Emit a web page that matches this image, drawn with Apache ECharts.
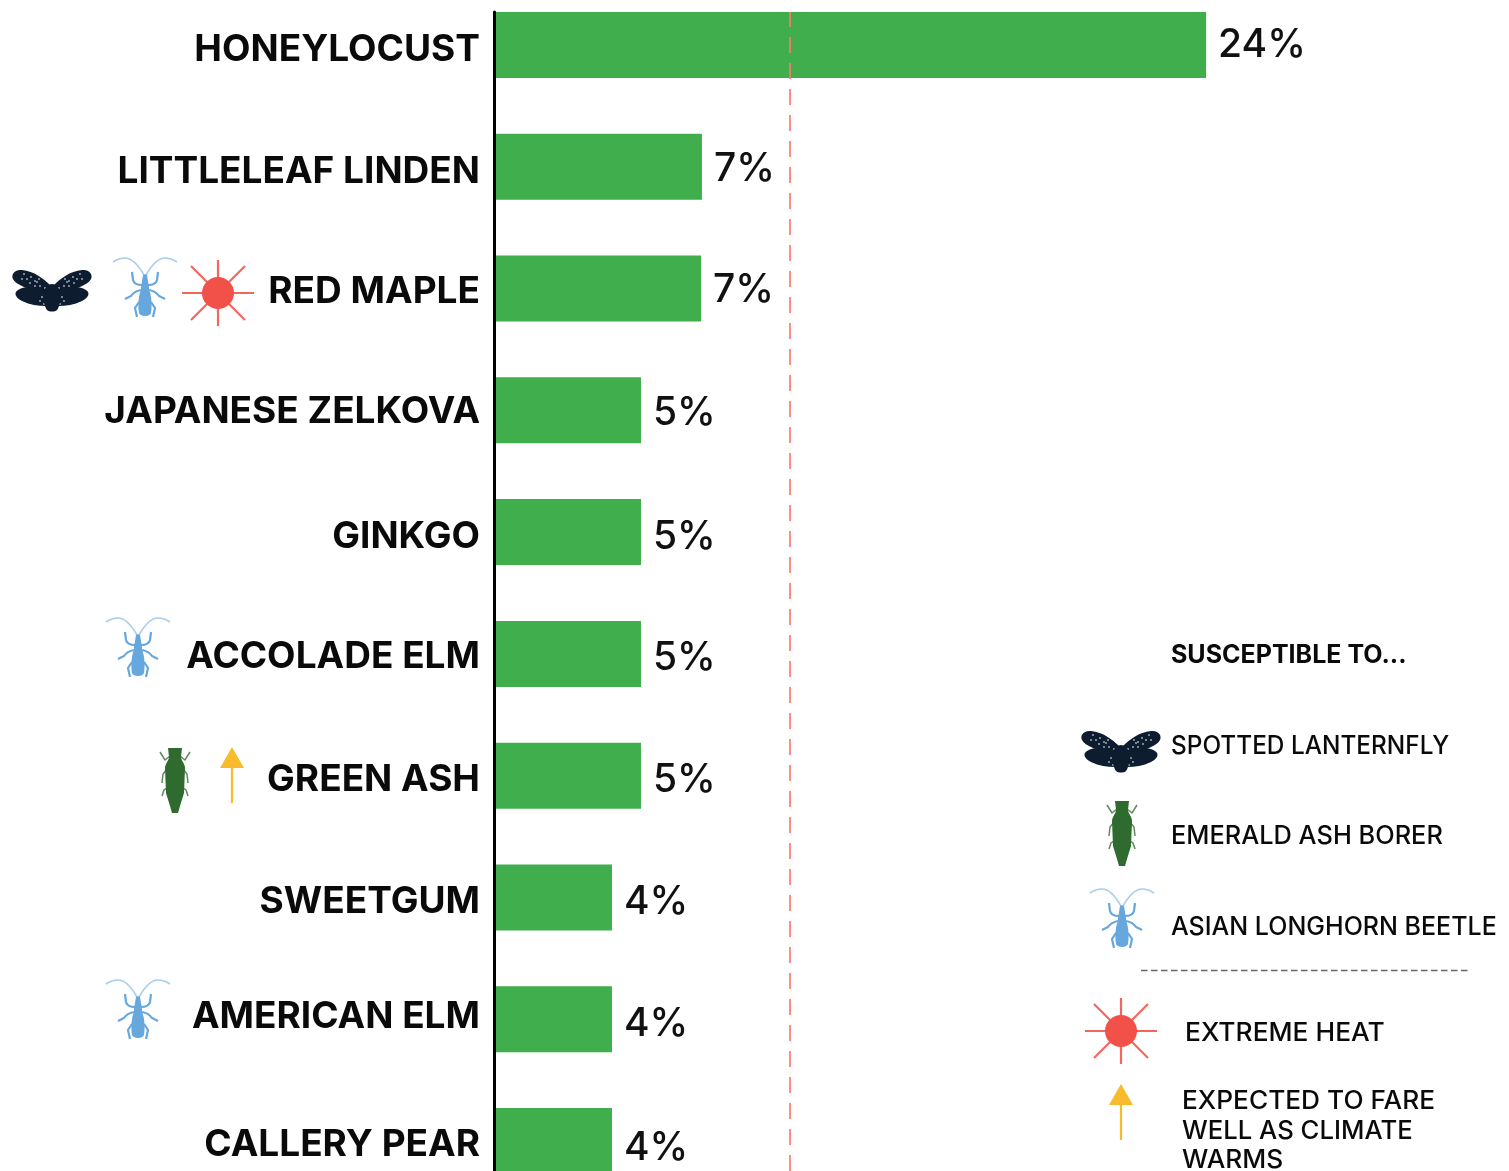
<!DOCTYPE html>
<html>
<head>
<meta charset="utf-8">
<title>Street trees</title>
<style>
html, body { margin: 0; padding: 0; background: #fff; overflow: hidden; }
#chart { width: 1509px; height: 1171px; }
</style>
</head>
<body>
<div id="chart"></div>
<script src="https://cdn.jsdelivr.net/npm/echarts@6/dist/echarts.min.js"></script>
<script>
var categories = ['HONEYLOCUST', 'LITTLELEAF LINDEN', 'RED MAPLE', 'JAPANESE ZELKOVA', 'GINKGO',
    'ACCOLADE ELM', 'GREEN ASH', 'SWEETGUM', 'AMERICAN ELM', 'CALLERY PEAR'];
var shares = [24, 6.96, 6.93, 4.9, 4.9, 4.9, 4.9, 3.92, 3.92, 3.92];
var shareLabels = ['24%', '7%', '7%', '5%', '5%', '5%', '5%', '4%', '4%', '4%'];
var referenceShare = 9.93;

var legendTitle = 'SUSCEPTIBLE TO...';
var legendTexts = ['SPOTTED LANTERNFLY', 'EMERALD ASH BORER', 'ASIAN LONGHORN BEETLE', 'EXTREME HEAT'];
var legendNote = ['EXPECTED TO FARE', 'WELL AS CLIMATE', 'WARMS'];

var FONT = 'Inter';
var GREEN = '#40ae4d';
var NAVY = '#0e1c2f';
var BLUE = '#66a7dd';
var PALE_BLUE = '#a9cdec';
var LEAF = '#2f6a2e';
var RED = '#f2514a';
var YELLOW = '#f7bb2b';

// the original text sits a few pixels off the bar centres, row by row
var nameShift = [5, 5, 3, 2, 5, 3, 4, 4, -2, 4];
var valueShift = [0, 3, 2, 3, 5, 4, 5, 5, 5, 7];

var dom = document.getElementById('chart');
var myChart = echarts.init(dom);

// icons, drawn around their own centre
var shapeCount = 0;
var shapeNames = {};
function p(d, style) {
    // the graphic component has no plain path type, so each path becomes a registered shape
    if (!shapeNames[d]) {
        shapeNames[d] = 'iconPath' + (shapeCount++);
        echarts.graphic.registerShape(shapeNames[d], echarts.graphic.extendPath(d, {}));
    }
    return { type: shapeNames[d], style: style };
}
function both(children) {
    return [
        { type: 'group', children: children },
        { type: 'group', scaleX: -1, children: children }
    ];
}
function at(x, y, children) {
    return { type: 'group', x: x, y: y, silent: true, children: children };
}

function lanternfly(x, y) {
    var dots = [[13, -12], [17, -10], [21, -14], [25, -12], [28, -17], [12, -5], [17, -5], [22, -8], [7, -3], [30, -12], [15, -9], [10, 6], [12, 10], [8, 13]];
    var half = [
        p('M2,-6 C8,-12 18,-20 30,-21 C38,-22 41,-16 39,-12 C36,-6 24,-2 6,3 Z', { fill: NAVY }),
        p('M4,-2 C15,-5 28,-5 34,-1 C39,2 36,7 30,10 C22,14 14,15 6,15 Z', { fill: NAVY })
    ];
    dots.forEach(function (d) {
        half.push({ type: 'circle', shape: { cx: d[0], cy: d[1], r: 0.9 }, style: { fill: '#aeb6bf' } });
    });
    return at(x, y, both(half).concat([
        p('M0,-7 C4,-7 8,-3 8,3 C8,10 8,15 5,19 C3,21 -3,21 -5,19 C-8,15 -8,10 -8,3 C-8,-3 -4,-7 0,-7 Z', { fill: NAVY })
    ]));
}

function beetle(x, y) {
    var leg = { fill: null, stroke: BLUE, lineWidth: 2.2 };
    var half = [
        p('M1,-13 C5,-20 12,-30 20,-30 C25,-30 29,-28 32,-26', { fill: null, stroke: PALE_BLUE, lineWidth: 1.6 }),
        p('M3,-3 C8,-3 11,-4 12,-8 L13,-16', leg),
        p('M4,2 C9,3 12,5 14,8 L20,11', leg),
        p('M6,14 L10,20 L8,29', leg)
    ];
    return at(x, y, both(half).concat([
        p('M-2,-13 C-1,-14 1,-14 2,-13 L4,-1 L4,2 C7,8 7,20 6,25 C5,29 -5,29 -6,25 C-7,20 -7,8 -4,2 L-4,-1 Z', { fill: BLUE })
    ]));
}

function sun(x, y) {
    var ray = { stroke: '#f4665c', lineWidth: 2.2 };
    var rays = [[0, -33, 0, 33], [-36, 0, 36, 0], [-27, -27, 27, 27], [-27, 27, 27, -27]];
    var kids = rays.map(function (r) {
        return { type: 'line', shape: { x1: r[0], y1: r[1], x2: r[2], y2: r[3] }, style: ray };
    });
    kids.push({ type: 'circle', shape: { cx: 0, cy: 0, r: 16 }, style: { fill: RED } });
    return at(x, y, kids);
}

function borer(x, y) {
    var leg = { fill: null, stroke: '#5d8a5a', lineWidth: 1.5 };
    var half = [
        p('M5,-24 L10,-20 L15,-28', leg),
        p('M8,-11 L12,-6 L13,3', leg),
        p('M8,8 L11,10 L13,16', leg)
    ];
    return at(x, y, both(half).concat([
        p('M-7,-32 L7,-32 L6,-23 C6,-20 10,-16 10,-12 L9,13 L5,26 L3,33 L-3,33 L-5,26 L-9,13 L-10,-12 C-10,-16 -6,-20 -6,-23 Z', { fill: LEAF })
    ]));
}

function arrow(x, y) {
    return at(x, y, [
        { type: 'polygon', shape: { points: [[0, 0], [12, 21], [-12, 21]] }, style: { fill: YELLOW } },
        { type: 'line', shape: { x1: 0, y1: 20, x2: 0, y2: 56 }, style: { stroke: YELLOW, lineWidth: 2.2 } }
    ]);
}

function label(text, x, y, weight, stretch) {
    return {
        type: 'text', x: x, y: y, scaleX: stretch, silent: true,
        style: { text: text, fill: '#0a0a0a', font: weight + ' 25px ' + FONT, textVerticalAlign: 'middle' }
    };
}

var decorations = [
    lanternfly(52, 291), beetle(145, 288), sun(218, 293),
    beetle(138, 648),
    borer(175, 780), arrow(232, 747),
    beetle(138, 1010),

    lanternfly(1121, 752), borer(1122, 833), beetle(1122, 919), sun(1121, 1031), arrow(1121, 1084),
    { type: 'line', silent: true, shape: { x1: 1141, y1: 970.5, x2: 1469, y2: 970.5 }, style: { stroke: '#666', lineWidth: 1.6, lineDash: [6.5, 3.5] } },

    label(legendTitle, 1171, 655, 700, 1),
    label(legendTexts[0], 1171, 746, 500, 0.975),
    label(legendTexts[1], 1171, 836, 500, 1.015),
    label(legendTexts[2], 1171, 927, 500, 1),
    label(legendTexts[3], 1185, 1033, 500, 1.055),
    label(legendNote[0], 1182, 1101, 500, 1.05),
    label(legendNote[1], 1182, 1131, 500, 1.027),
    label(legendNote[2], 1182, 1160, 500, 1.05)
];

// rich styles are the only way to shift one axis label on its own
var nameStyles = {};
nameShift.forEach(function (d, i) {
    nameStyles['row' + i] = {
        color: '#0a0a0a',
        fontFamily: FONT,
        fontWeight: 700,
        fontSize: 37,
        padding: d > 0 ? [2 * d, 0, 0, 0] : [0, 0, -2 * d, 0]
    };
});
var barItems = shares.map(function (v, i) {
    return { value: v, label: { offset: [0, valueShift[i]] } };
});

var option = {
    animation: false,
    backgroundColor: '#fff',
    grid: [
        { left: 496, top: -16, width: 1006, height: 1218, outerBoundsMode: 'none' },
        { left: 496, top: 12, width: 1006, bottom: 0, outerBoundsMode: 'none' }
    ],
    xAxis: [
        { type: 'value', gridIndex: 0, min: 0, max: 34, show: false },
        { type: 'value', gridIndex: 1, min: 0, max: 34, show: false }
    ],
    yAxis: [
        {
            type: 'category', gridIndex: 0, inverse: true, data: categories,
            axisLine: { show: false },
            axisTick: { show: false },
            axisLabel: {
                margin: 16,
                color: '#0a0a0a',
                fontFamily: FONT,
                fontWeight: 700,
                fontSize: 37,
                rich: nameStyles,
                formatter: function (value, index) {
                    return '{row' + index + '|' + value + '}';
                }
            }
        },
        {
            type: 'value', gridIndex: 1, min: 0, max: 1, offset: 2,
            splitLine: { show: false },
            axisTick: { show: false },
            axisLabel: { show: false },
            axisLine: { show: true, onZero: false, lineStyle: { color: '#000', width: 3 } }
        }
    ],
    series: [
        {
            name: 'share',
            type: 'bar',
            xAxisIndex: 0,
            yAxisIndex: 0,
            data: barItems,
            barWidth: 66,
            itemStyle: { color: GREEN },
            label: {
                show: true,
                position: 'right',
                distance: 12,
                color: '#111',
                fontFamily: FONT,
                fontWeight: 500,
                fontSize: 39,
                formatter: function (params) {
                    return shareLabels[params.dataIndex];
                }
            }
        },
        {
            name: 'reference',
            type: 'line',
            xAxisIndex: 1,
            yAxisIndex: 1,
            data: [],
            z: 5,
            markLine: {
                silent: true,
                symbol: 'none',
                label: { show: false },
                lineStyle: { color: '#fb7a70', width: 2, type: [16, 10], opacity: 0.85 },
                data: [{ xAxis: referenceShare }]
            }
        }
    ],
    graphic: { elements: decorations }
};

myChart.setOption(option, true);
</script>
</body>
</html>
